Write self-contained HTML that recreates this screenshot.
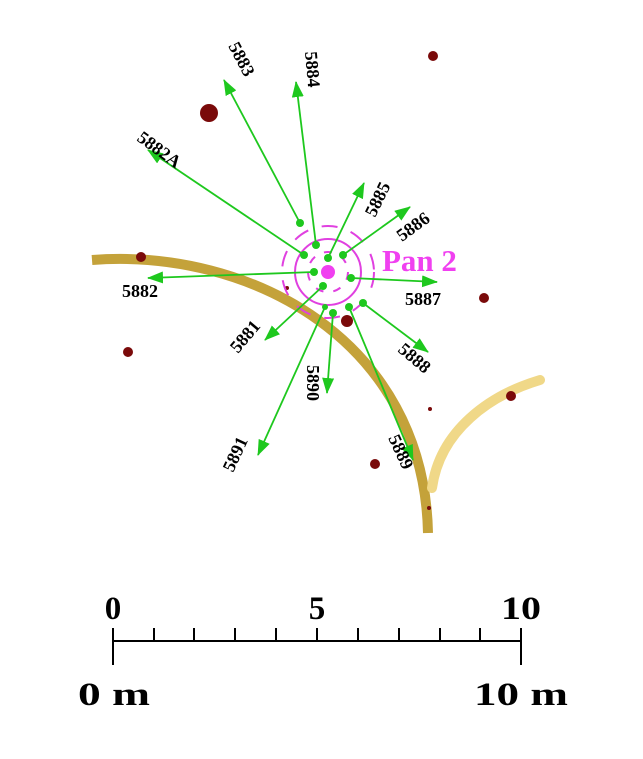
<!DOCTYPE html>
<html><head><style>body{margin:0;background:#fff}svg{display:block}</style></head><body>
<svg width="643" height="759" viewBox="0 0 643 759" xmlns="http://www.w3.org/2000/svg" font-family="Liberation Serif, serif" font-weight="bold">
<defs><marker id="a" markerWidth="16" markerHeight="12" refX="15" refY="6" orient="auto" markerUnits="userSpaceOnUse"><path d="M0,0 L16,6 L0,12 Z" fill="#1ec81e"/></marker></defs>
<path d="M92,260 C250,248 424,340 428,533" fill="none" stroke="#c4a23a" stroke-width="10"/>
<path d="M432,488 C440,430 490,395 540,380" fill="none" stroke="#f0d888" stroke-width="10" stroke-linecap="round"/>
<g fill="#7a0a0a">
<circle cx="433" cy="56" r="5"/><circle cx="209" cy="113" r="9"/><circle cx="141" cy="257" r="5"/><circle cx="484" cy="298" r="5"/><circle cx="128" cy="352" r="5"/><circle cx="347" cy="321" r="6"/><circle cx="511" cy="396" r="5"/><circle cx="375" cy="464" r="5"/><circle cx="430" cy="409" r="2"/><circle cx="429" cy="508" r="2"/><circle cx="287" cy="288" r="2"/>
</g>
<g stroke="#e040e0" fill="none" stroke-width="2">
<circle cx="328" cy="272" r="33"/>
<circle cx="328" cy="272" r="46" stroke-dasharray="16 14"/>
<circle cx="328" cy="272" r="20" stroke-dasharray="8 10"/>
</g>
<circle cx="328" cy="272" r="7" fill="#f040f0"/>
<g stroke="#1ec81e" stroke-width="1.8" marker-end="url(#a)">
<line x1="300" y1="223" x2="224" y2="80"/>
<line x1="316" y1="245" x2="296" y2="82"/>
<line x1="304" y1="255" x2="148" y2="150"/>
<line x1="328" y1="258" x2="364" y2="183"/>
<line x1="343" y1="255" x2="410" y2="207"/>
<line x1="314" y1="272" x2="148" y2="278"/>
<line x1="351" y1="278" x2="437" y2="282"/>
<line x1="323" y1="286" x2="265" y2="340"/>
<line x1="333" y1="313" x2="327" y2="393"/>
<line x1="325" y1="307" x2="258" y2="455"/>
<line x1="363" y1="303" x2="428" y2="352"/>
<line x1="349" y1="307" x2="413" y2="460"/>
</g>
<g fill="#1ec81e">
<circle cx="300" cy="223" r="4"/><circle cx="316" cy="245" r="4"/><circle cx="304" cy="255" r="4"/><circle cx="328" cy="258" r="4"/><circle cx="343" cy="255" r="4"/><circle cx="314" cy="272" r="4"/><circle cx="351" cy="278" r="4"/><circle cx="323" cy="286" r="4"/><circle cx="333" cy="313" r="4"/><circle cx="325" cy="307" r="3"/><circle cx="363" cy="303" r="4"/><circle cx="349" cy="307" r="4"/>
</g>
<g font-size="18" fill="#000">
<text transform="translate(228,46) rotate(62)">5883</text>
<text transform="translate(305,52) rotate(85)">5884</text>
<text transform="translate(136,140) rotate(36)">5882A</text>
<text transform="translate(375,218) rotate(-64)">5885</text>
<text transform="translate(402,242) rotate(-36)">5886</text>
<text x="122" y="297">5882</text>
<text x="405" y="305">5887</text>
<text transform="translate(238,354) rotate(-50)">5881</text>
<text transform="translate(307,365) rotate(90)">5890</text>
<text transform="translate(233,473) rotate(-65)">5891</text>
<text transform="translate(397,351) rotate(40)">5888</text>
<text transform="translate(388,438) rotate(65)">5889</text>
</g>
<text x="382" y="271" font-size="31" fill="#f040f0">Pan 2</text>
<g stroke="#000" stroke-width="2">
<line x1="113" y1="641" x2="521" y2="641"/>
<line x1="113" y1="628" x2="113" y2="665"/>
<line x1="521" y1="628" x2="521" y2="665"/>
<line x1="154" y1="628" x2="154" y2="641"/><line x1="194" y1="628" x2="194" y2="641"/><line x1="235" y1="628" x2="235" y2="641"/><line x1="276" y1="628" x2="276" y2="641"/><line x1="317" y1="628" x2="317" y2="641"/><line x1="358" y1="628" x2="358" y2="641"/><line x1="399" y1="628" x2="399" y2="641"/><line x1="440" y1="628" x2="440" y2="641"/><line x1="480" y1="628" x2="480" y2="641"/>
</g>
<g font-size="33" fill="#000" text-anchor="middle">
<text x="113" y="619">0</text><text x="317" y="619">5</text><text x="521" y="619" textLength="40" lengthAdjust="spacingAndGlyphs">10</text>
</g>
<g font-size="33" fill="#000">
<text x="78" y="705" textLength="72" lengthAdjust="spacingAndGlyphs">0 m</text><text x="474" y="705" textLength="94" lengthAdjust="spacingAndGlyphs">10 m</text>
</g>
</svg>
</body></html>
